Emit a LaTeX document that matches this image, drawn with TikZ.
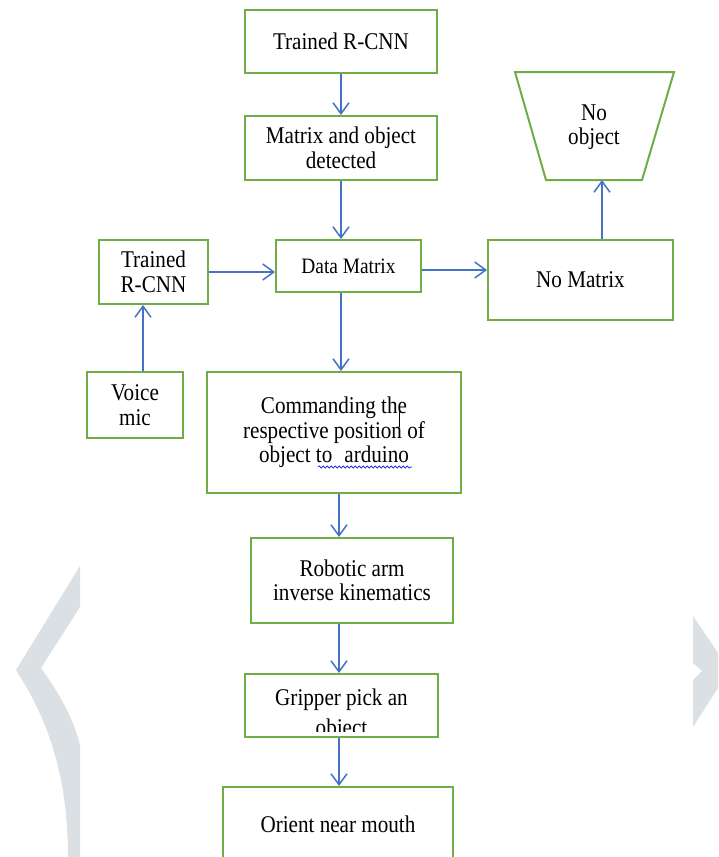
\documentclass[tikz,border=0pt]{standalone}
\usepackage{fontspec}
\setmainfont{Liberation Serif}[FakeStretch=0.88]
\usetikzlibrary{arrows.meta,decorations.pathmorphing}
\definecolor{boxgreen}{RGB}{112,173,71}
\definecolor{arrowblue}{RGB}{68,114,196}
\definecolor{wmgray}{RGB}{218,224,228}
\definecolor{spellblue}{RGB}{40,60,230}
\begin{document}
\begin{tikzpicture}[x=1pt,y=-1pt,
  box/.style={draw=boxgreen,line width=2pt,rectangle,inner sep=0pt,align=center,
    font=\fontsize{24}{24.5}\selectfont},
  boxtext/.style={inner sep=0pt,align=center,font=\fontsize{24}{24.5}\selectfont},
  flow/.style={draw=arrowblue,line width=1.5pt,-{Straight Barb[length=11pt,width=16pt]}}]
\useasboundingbox (0,0) rectangle (718,857);
\fill[white] (0,0) rectangle (718,857);
% watermark chevrons
\fill[wmgray] (80,566) -- (16,670) .. controls (45,715) and (68,770) .. (68,857)
  -- (80,857) -- (80,745) .. controls (72,715) and (60,695) .. (41,668) -- (80,607) -- cycle;
\fill[wmgray] (693,616) -- (718,653) -- (718,688) -- (693,727) -- (693,680)
  -- (702,671) -- (693,663) -- cycle;

% boxes
\node[box,minimum width=192pt,minimum height=63pt] (t1) at (341,41.5) {Trained R-CNN};
\node[box,minimum width=192pt,minimum height=64pt] (m) at (341,148) {Matrix and object\\detected};
\node[box,minimum width=145pt,minimum height=52pt,font=\fontsize{22}{24}\selectfont] (dm) at (348.5,266) {Data Matrix};
\node[box,minimum width=109pt,minimum height=64pt] (t2) at (153.5,272) {Trained\\R-CNN};
\node[box,minimum width=185pt,minimum height=80pt] (nm) at (580.5,280) {No Matrix};
\node[box,minimum width=96pt,minimum height=66pt] (vm) at (135,405) {Voice\\mic};
\node[box,minimum width=254pt,minimum height=121pt] (cmd) at (334,432.5)
  {Commanding the\\respective position of\\object to\,\,\,arduino};
\node[box,minimum width=202pt,minimum height=85pt] (ra) at (352,580.5) {Robotic arm\\inverse kinematics};
\node[box,minimum width=193pt,minimum height=63pt] (gp) at (341.5,705.5) {};
\begin{scope}
  \clip (245,676) rectangle (438,731);
  \node[boxtext,anchor=base] (gpt1) at (341.5,705) {Gripper pick an};
  \node[boxtext,anchor=base] (gpt2) at (341.5,735) {object};
\end{scope}
\node[box,minimum width=230pt,minimum height=74pt] (om) at (338,824) {Orient near mouth};

% trapezium "No object"
\coordinate (ntl) at (515,72);
\coordinate (ntr) at (674,72);
\coordinate (nbr) at (642,180);
\coordinate (nbl) at (546,180);
\draw[boxgreen,line width=2pt,line join=miter] (ntl) -- (ntr) -- (nbr) -- (nbl) -- cycle;
\node[boxtext] (nob) at (594,127) {No\\object};
\coordinate (nobin) at (602,180);

% editing marks
\draw[black,line width=0.8pt] (399,405) -- (399,427);
\draw[spellblue,line width=0.8pt,decorate,decoration={snake,amplitude=1.1pt,segment length=4pt}]
  (318,467) -- (412,467);

% connectors
\coordinate (ax) at (339,0);
\coordinate (ac) at (341,0);
\draw[flow] (t1.south) -- (m.north);
\draw[flow] (m.south) -- (m.south |- dm.north);
\draw[flow] (t2.east) -- (t2.east -| dm.west);
\draw[flow] ([yshift=-4pt]dm.east) -- ([yshift=-4pt]dm.east -| nm.west);
\draw[flow] (nm.north -| nobin) -- (nobin);
\draw[flow] (vm.north -| 143,0) -- (t2.south -| 143,0);
\draw[flow] (ac |- dm.south) -- (ac |- cmd.north);
\draw[flow] (ax |- cmd.south) -- (ax |- ra.north);
\draw[flow] (ax |- ra.south) -- (ax |- gp.north);
\draw[flow] (ax |- gp.south) -- (ax |- om.north);
\end{tikzpicture}
\end{document}
